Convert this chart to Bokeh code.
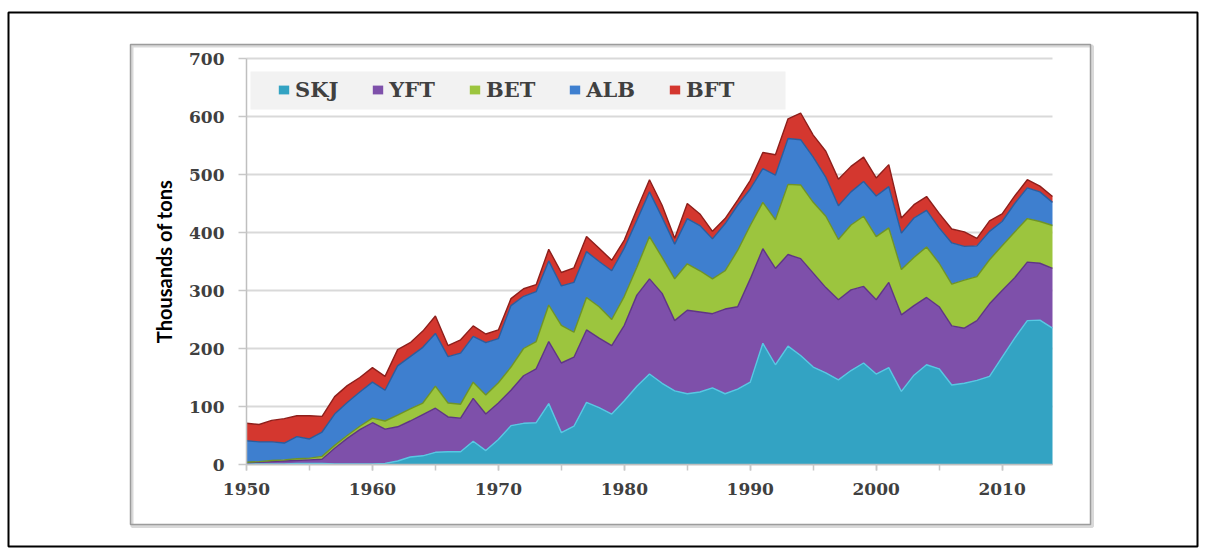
from bokeh.plotting import figure
from bokeh.models import ColumnDataSource, BoxAnnotation, SingleIntervalTicker
from bokeh.embed import file_html
from bokeh.resources import INLINE

years = list(range(1950, 2015))

SKJ = [1, 1, 1, 1, 2, 2, 2, 1, 1, 1,
       1, 2, 6, 13, 15, 21, 22, 22, 40, 24,
       43, 67, 71, 72, 105, 55, 66, 107, 98, 87,
       110, 135, 156, 140, 127, 122, 125, 132, 122, 130,
       142, 209, 172, 204, 188, 168, 158, 146, 162, 175,
       156, 167, 126, 154, 172, 165, 137, 140, 145, 152,
       185, 218, 248, 249, 235]
YFT = [2, 3, 4, 5, 5, 6, 7, 27, 44, 59,
       71, 59, 59, 62, 71, 76, 60, 58, 74, 63,
       63, 61, 82, 93, 107, 120, 119, 125, 120, 118,
       130, 157, 164, 155, 121, 144, 138, 128, 146, 142,
       178, 163, 166, 158, 167, 162, 147, 138, 139, 132,
       128, 147, 132, 120, 116, 107, 102, 95, 103, 125,
       115, 104, 101, 98, 103]
BET = [1, 1, 2, 2, 3, 3, 5, 5, 5, 6,
       8, 14, 20, 21, 20, 38, 24, 24, 28, 33,
       35, 40, 47, 47, 63, 65, 43, 56, 54, 45,
       50, 48, 73, 62, 72, 80, 71, 60, 66, 97,
       92, 80, 84, 121, 127, 122, 123, 104, 112, 121,
       109, 94, 78, 83, 87, 75, 72, 83, 76, 76,
       77, 79, 75, 72, 74]
ALB = [37, 34, 32, 29, 38, 33, 42, 54, 57, 59,
       62, 53, 85, 90, 96, 91, 80, 88, 79, 90,
       76, 106, 90, 86, 76, 68, 86, 79, 78, 84,
       83, 81, 77, 69, 60, 78, 78, 69, 81, 78,
       63, 58, 77, 79, 78, 78, 67, 58, 57, 60,
       70, 71, 63, 68, 63, 61, 71, 58, 53, 49,
       42, 49, 53, 51, 40]
BFT = [30, 30, 37, 42, 36, 40, 27, 30, 29, 25,
       25, 24, 28, 24, 28, 30, 19, 23, 18, 15,
       15, 12, 13, 12, 20, 23, 25, 26, 23, 18,
       14, 19, 21, 21, 10, 26, 20, 13, 9, 9,
       15, 28, 35, 34, 46, 38, 45, 46, 44, 42,
       31, 38, 26, 23, 24, 25, 24, 25, 13, 18,
       13, 13, 14, 10, 10]

species = ["SKJ", "YFT", "BET", "ALB", "BFT"]
fill_colors = ["#33a3c3", "#7e50aa", "#9cc53e", "#3e7fcf", "#d4372f"]
edge_colors = ["#57c8e3", "#5f3585", "#6f9426", "#2a5d9e", "#8e1f1b"]
y_ticks = [0, 100, 200, 300, 400, 500, 600, 700]
y_label = "Thousands of tons"

# ---- canvas geometry (pixels) ----
CW, CH = 1200, 550                 # canvas
PX_L, PX_R = 246, 1052             # plot area x (first / last year)
PY_T, PY_B = 58, 464               # plot area y (top value / zero)
X0, X1 = years[0], years[-1]
Y0, Y1 = 0, 700
xs = (X1 - X0) / (PX_R - PX_L)
ys = (Y1 - Y0) / (PY_B - PY_T)
x_start = X0 - PX_L * xs
y_end = Y1 + PY_T * ys


def X(px):
    return x_start + px * xs


def Y(py):
    return y_end - py * ys


src = ColumnDataSource(dict(year=years, SKJ=SKJ, YFT=YFT, BET=BET, ALB=ALB, BFT=BFT))

p = figure(width=CW, height=CH,
           x_range=(X(0), X(CW)), y_range=(Y(CH), Y(0)),
           min_border_left=0, min_border_right=0,
           min_border_top=0, min_border_bottom=0,
           output_backend="svg", toolbar_location=None)
p.background_fill_color = "white"
p.border_fill_color = "white"
p.outline_line_color = None
p.xgrid.grid_line_color = None
p.ygrid.grid_line_color = None


def frame_box(l, r, t, b, color, width):
    return BoxAnnotation(left=X(l), right=X(r), top=Y(t), bottom=Y(b),
                         fill_alpha=0, line_color=color, line_alpha=1.0,
                         line_width=width, level="underlay")


# outer frame and chart box (with soft shadow)
p.add_layout(frame_box(8, 1197, 12, 546, "#000000", 2))
p.add_layout(frame_box(131.5, 1092, 45.5, 526, "#d9d9d9", 3))
p.add_layout(frame_box(130, 1090, 44, 524, "#9c9c9c", 1.5))
# legend background
p.add_layout(BoxAnnotation(left=X(250), right=X(785), top=Y(71), bottom=Y(109),
                           fill_color="#f2f2f2", fill_alpha=1.0,
                           line_color=None, level="underlay"))

# horizontal gridlines within the plot area
p.segment(x0=[X0] * len(y_ticks), x1=[X1] * len(y_ticks), y0=y_ticks, y1=y_ticks,
          line_color="#d9d9d9", line_width=2)

p.varea_stack(species, x="year", color=fill_colors, source=src,
              legend_label=species)
p.vline_stack(species, x="year", color=edge_colors, line_width=1.4,
              source=src)

# axes fixed at the plot area edges
p.xaxis.fixed_location = Y0
p.xaxis.bounds = (X0, X1)
p.yaxis.fixed_location = X0
p.yaxis.bounds = (Y0, Y1)
p.yaxis.ticker = SingleIntervalTicker(interval=100, num_minor_ticks=0)
p.xaxis.ticker = SingleIntervalTicker(interval=10, num_minor_ticks=2)
for ax in (p.xaxis, p.yaxis):
    ax.major_label_text_font = "DejaVu Serif"
    ax.major_label_text_font_style = "bold"
    ax.major_label_text_font_size = "17px"
    ax.major_label_text_color = "#404040"
    ax.axis_line_color = "#bfbfbf"
    ax.axis_line_width = 1.5
    ax.major_tick_line_color = "#c8c8c8"
    ax.major_tick_line_width = 1.5
    ax.major_tick_in = 0
ax = p.yaxis[0]
ax.major_tick_out = 8
ax.minor_tick_line_color = None
ax.major_label_standoff = 14
ax.axis_label = y_label
ax.axis_label_text_font = "Lato"
ax.axis_label_text_font_style = "bold"
ax.axis_label_text_font_size = "20px"
ax.axis_label_text_color = "#000000"
ax.axis_label_standoff = 10
ax = p.xaxis[0]
ax.major_tick_out = 6
ax.minor_tick_out = 6
ax.minor_tick_in = 0
ax.minor_tick_line_color = "#c8c8c8"
ax.minor_tick_line_width = 1.5
ax.major_label_standoff = 12

# legend
lg = p.legend[0]
lg.orientation = "horizontal"
lg.location = (PX_L + 31, CH - 102)
lg.background_fill_alpha = 0
lg.border_line_color = None
lg.padding = 6
lg.spacing = 33
lg.glyph_width = 13
lg.glyph_height = 11
lg.label_standoff = 5
lg.label_text_font = "DejaVu Serif"
lg.label_text_font_style = "bold"
lg.label_text_font_size = "21px"
lg.label_text_color = "#404040"

open("out.html", "w").write(file_html(p, INLINE))
